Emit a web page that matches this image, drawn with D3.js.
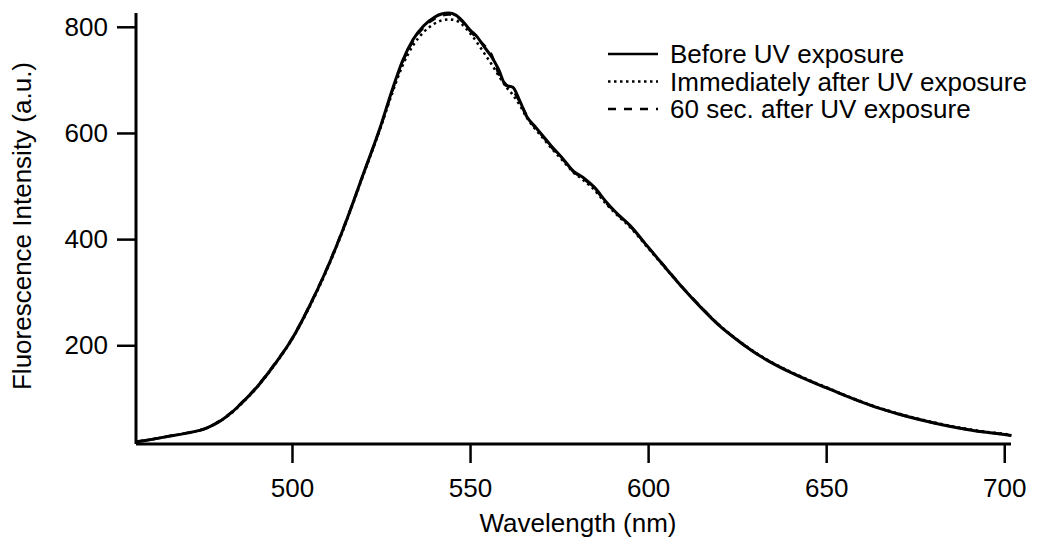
<!DOCTYPE html>
<html>
<head>
<meta charset="utf-8">
<script src="https://cdn.jsdelivr.net/npm/d3@7/dist/d3.min.js"></script>
<style>
	html, body { margin: 0; padding: 0; background: #fff; }
	text { font-family: "Liberation Sans", Arial, sans-serif; fill: #000; }
</style>
</head>
<body>
<script>
(function() {
	'use strict';

	// DATA //

	var wavelengths = [ 456, 460, 465, 470, 476, 480, 483, 486, 490, 493, 496, 500, 505, 510, 515, 520, 525, 528, 531, 534, 537, 540, 542, 544, 546, 548, 550, 552, 554, 556, 558, 560, 562, 564, 566, 568, 570, 573, 576, 579, 582, 585, 588, 591, 595, 600, 605, 610, 615, 620, 625, 630, 635, 640, 645, 650, 655, 660, 665, 670, 675, 680, 685, 690, 695, 700, 702 ];

	var before = [ 18, 22, 28, 34, 44, 58, 73, 92, 120, 145, 172, 212, 275, 347, 430, 522, 615, 678, 735, 776, 802, 818, 824, 826, 822, 810, 794, 781, 762, 744, 720, 690, 686, 660, 630, 614, 598, 574, 552, 528, 515, 497, 472, 450, 425, 385, 345, 306, 270, 237, 210, 186, 166, 149, 134, 120, 106, 93, 81, 71, 62, 54, 47, 41, 36, 32, 30 ];

	var immediately = [ 18, 22, 28, 34, 44, 58, 72, 91, 119, 144, 171, 211, 273, 345, 428, 520, 612, 672, 726, 765, 790, 806, 812, 814, 812, 803, 788, 770, 750, 730, 708, 688, 672, 652, 628, 610, 594, 570, 548, 526, 510, 492, 468, 447, 422, 383, 344, 306, 271, 238, 211, 187, 167, 150, 135, 121, 107, 94, 82, 72, 63, 55, 48, 42, 37, 33, 31 ];

	var after60 = [ 18, 22, 28, 34, 44, 59, 74, 93, 121, 146, 173, 213, 276, 348, 431, 522, 614, 676, 732, 773, 799, 815, 821, 823, 820, 809, 792, 778, 765, 748, 712, 692, 680, 658, 632, 612, 597, 572, 551, 527, 513, 495, 470, 449, 424, 385, 346, 307, 271, 238, 210, 186, 166, 149, 134, 120, 106, 93, 81, 71, 62, 54, 47, 41, 36, 32, 30 ];

	var xTicks = [ 500, 550, 600, 650, 700 ],
		yTicks = [ 200, 400, 600, 800 ];

	var seriesNames = [ 'Before UV exposure', 'Immediately after UV exposure', '60 sec. after UV exposure' ];


	// VARIABLES //

	var WIDTH = 1037,
		HEIGHT = 541,
		LEFT = 136,
		RIGHT = 1011,
		TOP = 13,
		BOTTOM = 444,
		FONT = 26;

	var dashes = [ null, '2.5,3.5', '8,8' ];

	var svg, xScale, yScale, line, series, legend;

	svg = d3.select( 'body' ).append( 'svg' )
		.attr( 'width', WIDTH )
		.attr( 'height', HEIGHT );

	xScale = d3.scaleLinear()
		.domain( [ 456.2, 701.9 ] )
		.range( [ LEFT, RIGHT ] );

	yScale = d3.scaleLinear()
		.domain( [ 14, 826 ] )
		.range( [ BOTTOM, TOP ] );

	// Axes:
	svg.append( 'g' )
		.attr( 'transform', 'translate(0,' + BOTTOM + ')' )
		.call( d3.axisBottom( xScale ).tickValues( xTicks ).tickSize( 19 ).tickPadding( 16 ).tickSizeOuter( 0 ) )
		.call( function( g ) {
			g.select( '.domain' ).attr( 'stroke-width', 3 ).attr( 'd', 'M' + LEFT + ',0H' + RIGHT );
			g.selectAll( '.tick line' ).attr( 'stroke-width', 2.5 );
			g.selectAll( '.tick text' ).attr( 'font-size', FONT ).attr( 'font-family', '"Liberation Sans", Arial, sans-serif' );
		});

	svg.append( 'g' )
		.attr( 'transform', 'translate(' + LEFT + ',0)' )
		.call( d3.axisLeft( yScale ).tickValues( yTicks ).tickSize( 19 ).tickPadding( 9 ).tickSizeOuter( 0 ) )
		.call( function( g ) {
			g.select( '.domain' ).attr( 'stroke-width', 3 ).attr( 'd', 'M0,' + TOP + 'V' + BOTTOM );
			g.selectAll( '.tick line' ).attr( 'stroke-width', 2.5 );
			g.selectAll( '.tick text' ).attr( 'font-size', FONT ).attr( 'font-family', '"Liberation Sans", Arial, sans-serif' );
		});

	// Axis titles:
	svg.append( 'text' )
		.attr( 'x', 578 )
		.attr( 'y', 532 )
		.attr( 'text-anchor', 'middle' )
		.attr( 'font-size', FONT )
		.text( 'Wavelength (nm)' );

	svg.append( 'text' )
		.attr( 'transform', 'translate(31,226) rotate(-90)' )
		.attr( 'text-anchor', 'middle' )
		.attr( 'font-size', FONT )
		.text( 'Fluorescence Intensity (a.u.)' );

	// Curves:
	line = d3.line()
		.x( function( d, i ) { return xScale( wavelengths[ i ] ); })
		.y( function( d ) { return yScale( d ); })
		.curve( d3.curveMonotoneX );

	series = [ before, immediately, after60 ];

	svg.append( 'g' )
		.selectAll( 'path' )
		.data( series )
	  .enter().append( 'path' )
		.attr( 'd', line )
		.attr( 'fill', 'none' )
		.attr( 'stroke', '#000' )
		.attr( 'stroke-width', function( d, i ) { return i === 0 ? 3 : 2.5; })
		.attr( 'stroke-dasharray', function( d, i ) { return dashes[ i ]; });

	// Legend:
	legend = svg.append( 'g' )
		.selectAll( 'g' )
		.data( seriesNames )
	  .enter().append( 'g' )
		.attr( 'transform', function( d, i ) { return 'translate(608,' + ( 54 + i * 27.5 ) + ')'; });

	legend.append( 'line' )
		.attr( 'x1', 0 )
		.attr( 'x2', 50 )
		.attr( 'stroke', '#000' )
		.attr( 'stroke-width', 2.5 )
		.attr( 'stroke-dasharray', function( d, i ) { return dashes[ i ]; });

	legend.append( 'text' )
		.attr( 'x', 62 )
		.attr( 'y', 9 )
		.attr( 'font-size', FONT )
		.text( function( d ) { return d; });

})();
</script>
</body>
</html>
